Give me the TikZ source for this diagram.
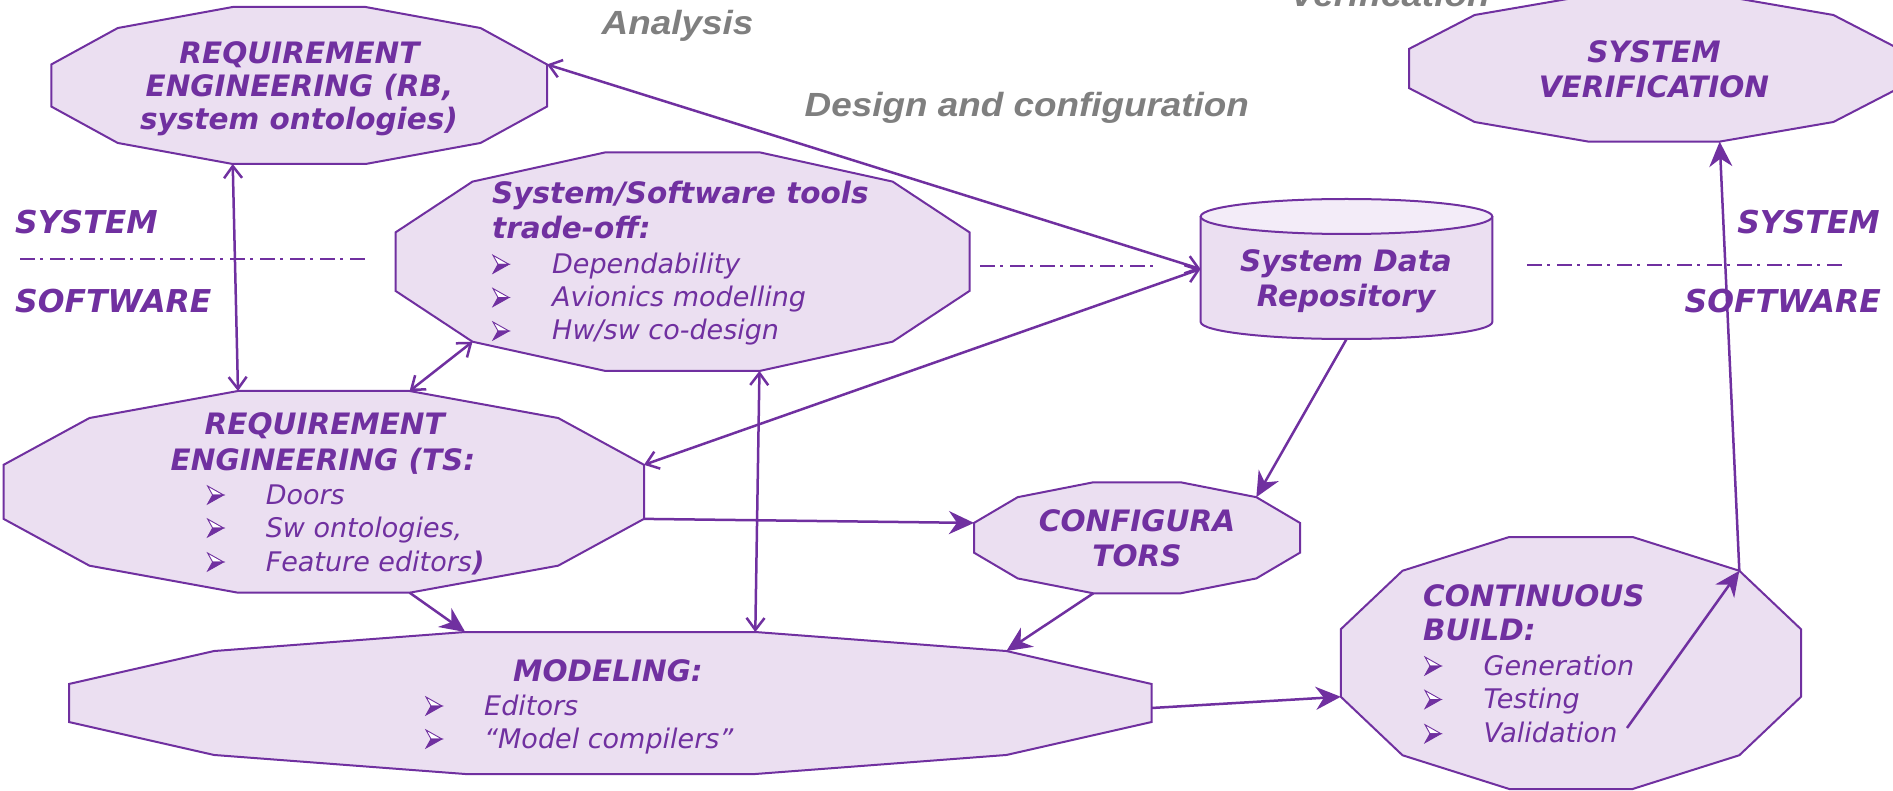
\documentclass[tikz,border=0pt]{standalone}
\usepackage{fontspec}
\setmainfont{DejaVu Sans}
\newfontfamily\grayfont{Liberation Sans}[FakeStretch=1.1]
\usetikzlibrary{arrows.meta,calc,fit}

\definecolor{purp}{HTML}{7030A0}
\definecolor{lav}{HTML}{EBDFF1}
\definecolor{lavtop}{HTML}{F3ECF8}
\definecolor{grtxt}{HTML}{7F7F7F}

\tikzset{
  ttl/.style={font=\fontsize{29.5}{35}\selectfont\bfseries\itshape, text=purp, inner sep=0pt},
  itm/.style={font=\fontsize{27}{33}\selectfont\itshape, text=purp, inner sep=0pt, anchor=base west},
  side/.style={font=\fontsize{31.5}{37}\selectfont\bfseries\itshape, text=purp, inner sep=0pt},
  graylbl/.style={font=\grayfont\fontsize{33.5}{38}\selectfont\bfseries\itshape, text=grtxt, inner sep=0pt, anchor=base west},
  shp/.style={draw=purp, fill=lav, line width=2pt, line join=miter},
  con/.style={draw=purp, line width=2.5pt},
  dbl/.style={con, {Straight Barb[length=12pt,width=18pt]}-{Straight Barb[length=12pt,width=18pt]}},
  one/.style={con, -{Stealth[length=25pt,width=23pt,inset=8pt]}},
  sepline/.style={draw=purp, line width=2.2pt, dash pattern=on 15pt off 5pt on 3pt off 7pt},
  bullet/.pic={
    \filldraw[draw=purp, fill=white, line width=0.9pt, line join=miter] (0,-9) -- (16,0) -- (5,0) -- cycle;
    \filldraw[draw=purp, fill=purp, line width=0.9pt, line join=miter] (5,0) -- (16,0) -- (0,9) -- cycle;
  },
}

% dodecagon in the box (x1,y1)-(x2,y2); corners named <name>-1 ... <name>-12
\newcommand\dodec[5]{%
  \pgfmathsetmacro\dgXa{#2+0.134*(#4-#2)}%
  \pgfmathsetmacro\dgXb{#2+0.366*(#4-#2)}%
  \pgfmathsetmacro\dgXc{#2+0.634*(#4-#2)}%
  \pgfmathsetmacro\dgXd{#2+0.866*(#4-#2)}%
  \pgfmathsetmacro\dgYa{#3+0.134*(#5-#3)}%
  \pgfmathsetmacro\dgYb{#3+0.366*(#5-#3)}%
  \pgfmathsetmacro\dgYc{#3+0.634*(#5-#3)}%
  \pgfmathsetmacro\dgYd{#3+0.866*(#5-#3)}%
  \path[shp] (\dgXb,#3) coordinate (#1-1) -- (\dgXc,#3) coordinate (#1-2)
    -- (\dgXd,\dgYa) coordinate (#1-3) -- (#4,\dgYb) coordinate (#1-4)
    -- (#4,\dgYc) coordinate (#1-5) -- (\dgXd,\dgYd) coordinate (#1-6)
    -- (\dgXc,#5) coordinate (#1-7) -- (\dgXb,#5) coordinate (#1-8)
    -- (\dgXa,\dgYd) coordinate (#1-9) -- (#2,\dgYc) coordinate (#1-10)
    -- (#2,\dgYb) coordinate (#1-11) -- (\dgXa,\dgYa) coordinate (#1-12) -- cycle;
  \path (#2,#3) coordinate (#1-nw) (#4,#5) coordinate (#1-se);
  \node[fit=(#1-nw)(#1-se), inner sep=0pt] (#1) {};
}

\begin{document}
\begin{tikzpicture}[x=1pt, y=-1pt]
\useasboundingbox (0,0) rectangle (1893,791);
\fill[white] (0,0) rectangle (1893,791);

% ---- gray phase labels
\node[graylbl] (lbl-ver) at (1290,7) {Verification};
\node[graylbl] (lbl-ana) at (601.5,35) {Analysis};
\node[graylbl] (lbl-des) at (804.5,116.7) {Design and configuration};

% ---- system / software boundary
\node[side, anchor=base west] (sys-l) at (15,234) {SYSTEM};
\node[side, anchor=base west] (sw-l) at (15,313) {SOFTWARE};
\node[side, anchor=base east] (sys-r) at (1880,234) {SYSTEM};
\node[side, anchor=base east] (sw-r) at (1881,313) {SOFTWARE};
\coordinate (sepA1) at (20,259.3);   \coordinate (sepA2) at (365.7,259.3);
\coordinate (sepB1) at (980,265.7);  \coordinate (sepB2) at (1153,265.7);
\coordinate (sepC1) at (1527,265);   \coordinate (sepC2) at (1843,265);
\draw[sepline] (sepA1) -- (sepA2);
\draw[sepline] (sepB1) -- (sepB2);
\draw[sepline] (sepC1) -- (sepC2);

% ---- requirement engineering (system level)
\dodec{rb}{51.3}{7}{547}{164}
\node[ttl, anchor=base] (rb-t1) at (299.5,63.3) {REQUIREMENT};
\node[ttl, anchor=base] (rb-t2) at (299.5,96.7) {ENGINEERING (RB,};
\node[ttl, anchor=base] (rb-t3) at (299,129.5) {system ontologies)};

% ---- system verification
\dodec{sv}{1409}{-4.6}{1899}{141.6}
\node[ttl, anchor=base] (sv-t1) at (1654,62.7) {SYSTEM};
\node[ttl, anchor=base] (sv-t2) at (1654,97.7) {VERIFICATION};

% ---- tools trade-off
\dodec{tools}{395.6}{152.3}{969.5}{371}
\node[ttl, anchor=base west] (tools-t1) at (492,204) {System/Software tools};
\node[ttl, anchor=base west] (tools-t2) at (492,239) {trade-off:};
\pic at (493,264.3) {bullet};
\pic at (493,297.5) {bullet};
\pic at (493,331) {bullet};
\node[itm] (tools-i1) at (552,273.3) {Dependability};
\node[itm] (tools-i2) at (552,306.5) {Avionics modelling};
\node[itm] (tools-i3) at (552,340) {Hw/sw co-design};

% ---- system data repository
\fill[lav] (1200.7,216.5) -- (1200.7,322)
  .. controls (1200.7,331.4) and (1266,339) .. (1346.5,339)
  .. controls (1427,339) and (1492.3,331.4) .. (1492.3,322) -- (1492.3,216.5) -- cycle;
\draw[purp, line width=2pt] (1200.7,216.5) -- (1200.7,322)
  .. controls (1200.7,331.4) and (1266,339) .. (1346.5,339)
  .. controls (1427,339) and (1492.3,331.4) .. (1492.3,322) -- (1492.3,216.5);
\filldraw[draw=purp, fill=lavtop, line width=2pt] (1346.5,216.5) ellipse [x radius=145.8pt, y radius=17.5pt];
\node[minimum width=291.6pt, minimum height=140pt, inner sep=0pt] (repo) at (1346.5,269) {};
\node[ttl, anchor=base] (repo-t1) at (1346,271.7) {System Data};
\node[ttl, anchor=base] (repo-t2) at (1346,306.7) {Repository};

% ---- requirement engineering (software level)
\dodec{ts}{3.6}{391}{644}{592.7}
\node[ttl, anchor=base] (ts-t1) at (324.7,435) {REQUIREMENT};
\node[ttl, anchor=base] (ts-t2) at (323,470) {ENGINEERING (TS:};
\pic at (207.6,495) {bullet};
\pic at (207.6,528) {bullet};
\pic at (207.6,562) {bullet};
\node[itm] (ts-i1) at (265.6,504) {Doors};
\node[itm] (ts-i2) at (265.6,537) {Sw ontologies,};
\node[itm] (ts-i3) at (265.6,571) {Feature editors{\bfseries)}};

% ---- configurators
\dodec{conf}{974}{482.3}{1300}{593.3}
\node[ttl, anchor=base] (conf-t1) at (1137,531.7) {CONFIGURA};
\node[ttl, anchor=base] (conf-t2) at (1137,566.7) {TORS};

% ---- modeling
\dodec{mod}{69}{632}{1151.5}{774}
\node[ttl, anchor=base] (mod-t1) at (608,681) {MODELING:};
\pic at (426,706) {bullet};
\pic at (426,739) {bullet};
\node[itm] (mod-i1) at (484,715) {Editors};
\node[itm] (mod-i2) at (484,748) {“Model compilers”};

% ---- continuous build
\dodec{cb}{1340.8}{537}{1801}{789}
\node[ttl, anchor=base west] (cb-t1) at (1423,606) {CONTINUOUS};
\node[ttl, anchor=base west] (cb-t2) at (1423,640) {BUILD:};
\pic at (1425,666) {bullet};
\pic at (1425,699.5) {bullet};
\pic at (1425,733.7) {bullet};
\node[itm] (cb-i1) at (1483.4,675) {Generation};
\node[itm] (cb-i2) at (1483.4,708.5) {Testing};
\node[itm] (cb-i3) at (1483.4,742.7) {Validation};
\coordinate (valend) at (1627,728);

% ---- connectors
\coordinate (repo-w) at (repo.west);
\draw[dbl] (rb-4) -- (repo-w);
\draw[dbl] (ts-4) -- (repo-w);
\draw[dbl] (rb-8) -- (ts-1);
\draw[dbl] (tools-9) -- (ts-2);
\draw[dbl] (tools-7) -- (mod-2);
\draw[one] (ts-5) -- (conf-11);
\draw[one] (ts-7) -- (mod-1);
\draw[one] (repo.south) -- (conf-3);
\draw[one] (conf-8) -- (mod-3);
\draw[one] ($(mod.east)+(0,5)$) -- (cb-10);
\draw[one] (valend) -- (cb-3);
\draw[one] (cb-3) -- (sv-7);
\end{tikzpicture}
\end{document}
